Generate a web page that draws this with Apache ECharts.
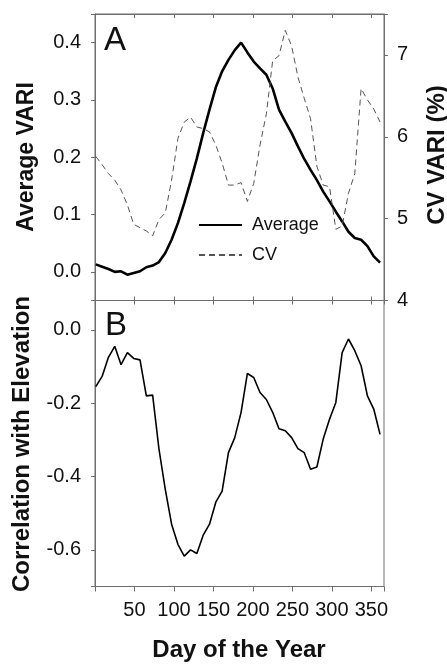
<html>
<head>
    <meta charset="utf-8">
    <script src='https://cdn.jsdelivr.net/npm/echarts@6/dist/echarts.min.js'></script>
</head>
<body>
<div id='main'></div>
<style>
    html, body, #main {
        width: 100%;
        height: 100%;
        margin: 0;
        background: #fff;
    }
</style>
<script>
    // day of year, 8-day steps
    var days = [1, 9, 17, 25, 33, 41, 49, 57, 65, 73, 81, 89, 97, 105, 113, 121, 129, 137, 145, 153, 161, 169, 177, 185,
        193, 201, 209, 217, 225, 233, 241, 249, 257, 265, 273, 281, 289, 297, 305, 313, 321, 329, 337, 345, 353, 361];

    var avgVari = [0.013, 0.009, 0.005, 0.0, 0.001, -0.005, -0.002, 0.001, 0.008, 0.011, 0.017, 0.033, 0.056, 0.085,
        0.12, 0.158, 0.198, 0.242, 0.283, 0.322, 0.35, 0.37, 0.387, 0.4, 0.383, 0.367, 0.355, 0.344, 0.32, 0.283,
        0.262, 0.242, 0.219, 0.197, 0.178, 0.16, 0.14, 0.123, 0.105, 0.088, 0.07, 0.059, 0.056, 0.045, 0.027, 0.016];

    var cvVari = [5.76, 5.66, 5.55, 5.47, 5.35, 5.17, 4.93, 4.89, 4.85, 4.79, 4.99, 5.07, 5.47, 5.98, 6.18, 6.24,
        6.12, 6.10, 6.06, 5.9, 5.68, 5.41, 5.41, 5.44, 5.21, 5.43, 5.9, 6.28, 6.93, 6.99, 7.3, 7.11, 6.73, 6.47,
        6.22, 5.64, 5.41, 5.39, 4.87, 4.91, 5.31, 5.55, 6.59, 6.45, 6.34, 6.18];

    var corrElev = [-0.155, -0.127, -0.075, -0.045, -0.095, -0.062, -0.078, -0.082, -0.18, -0.178, -0.325, -0.435,
        -0.53, -0.585, -0.617, -0.6, -0.61, -0.56, -0.53, -0.47, -0.44, -0.335, -0.294, -0.225, -0.119, -0.13,
        -0.171, -0.19, -0.225, -0.27, -0.275, -0.294, -0.324, -0.335, -0.38, -0.374, -0.298, -0.244, -0.198,
        -0.062, -0.025, -0.057, -0.098, -0.18, -0.216, -0.285];

    function zip(ys) {
        return days.map(function (d, i) { return [d, ys[i]]; });
    }

    var frame = '#6e6e6e';
    var txt = '#111';
    var font = 'Liberation Sans, Arial, sans-serif';

    function xAx(grid, pos, inside, labels) {
        return {
            type: 'value', gridIndex: grid, position: pos, min: 0, max: 366, interval: 50,
            axisLine: {show: true, onZero: false, lineStyle: {color: frame}},
            axisTick: {show: true, inside: inside, length: inside ? 4 : 5, lineStyle: {color: frame}},
            splitLine: {show: false},
            axisLabel: {
                show: labels, margin: 14, color: txt, fontSize: 20, fontFamily: font,
                formatter: function (v) { return (v > 0 && v % 50 === 0) ? String(v) : ''; }
            }
        };
    }

    function fmt(step) {
        return function (v) {
            var k = v / step;
            if (Math.abs(k - Math.round(k)) > 1e-6) return '';
            if (Math.abs(v) < 1e-9) return '0.0';
            return v.toFixed(1);
        };
    }

    var chart = echarts.init(document.getElementById('main'));

    var option = {
        animation: false,
        backgroundColor: '#fff',
        grid: [
            {left: 95, right: 63, top: 14, height: 286.5, show: true, borderColor: frame, borderWidth: 1},
            {left: 95, right: 63, top: 300.5, height: 286, show: true, borderColor: frame, borderWidth: 1}
        ],
        xAxis: [
            xAx(0, 'bottom', true, false),
            xAx(0, 'top', true, false),
            xAx(1, 'top', true, false),
            xAx(1, 'bottom', false, true)
        ],
        yAxis: [
            {
                type: 'value', gridIndex: 0, position: 'left', min: -0.05, max: 0.45, splitNumber: 5,
                axisLine: {show: true, onZero: false, lineStyle: {color: frame}},
                axisTick: {show: true, length: 4, lineStyle: {color: frame}},
                splitLine: {show: false},
                axisLabel: {margin: 14, color: txt, fontSize: 20, fontFamily: font, formatter: fmt(0.1)}
            },
            {
                type: 'value', gridIndex: 0, position: 'right', min: 4, max: 7.5, interval: 1,
                axisLine: {show: true, onZero: false, lineStyle: {color: frame}},
                axisTick: {show: true, length: 4, lineStyle: {color: frame}},
                splitLine: {show: false},
                axisLabel: {
                    margin: 13, color: txt, fontSize: 20, fontFamily: font,
                    formatter: function (v) { return v % 1 === 0 ? String(v) : ''; }
                }
            },
            {
                type: 'value', gridIndex: 1, position: 'left', min: -0.7, max: 0.08, splitNumber: 4,
                axisLine: {show: true, onZero: false, lineStyle: {color: frame}},
                axisTick: {show: true, length: 4, lineStyle: {color: frame}},
                splitLine: {show: false},
                axisLabel: {margin: 14, color: txt, fontSize: 20, fontFamily: font, formatter: fmt(0.2)}
            }
        ],
        legend: {
            data: ['Average', 'CV'],
            orient: 'vertical',
            left: 198, top: 216,
            padding: 0,
            itemWidth: 43, itemHeight: 14, itemGap: 12,
            itemStyle: {opacity: 0},
            textStyle: {fontSize: 18, color: txt, fontFamily: font, padding: [0, 0, 0, 5]}
        },
        series: [
            {
                name: 'Average', type: 'line', xAxisIndex: 0, yAxisIndex: 0, data: zip(avgVari),
                symbol: 'none', lineStyle: {color: '#000', width: 2.6}, itemStyle: {color: '#000'}
            },
            {
                name: 'CV', type: 'line', xAxisIndex: 0, yAxisIndex: 1, data: zip(cvVari),
                symbol: 'none', lineStyle: {color: '#555', width: 1, type: [6, 4]}, itemStyle: {color: '#555'}
            },
            {
                name: 'Correlation', type: 'line', xAxisIndex: 3, yAxisIndex: 2, data: zip(corrElev),
                symbol: 'none', lineStyle: {color: '#000', width: 1.6}
            }
        ],
        graphic: [
            {type: 'text', x: 104, y: 41, style: {text: 'A', font: '33px ' + font, fill: txt, textVerticalAlign: 'middle'}},
            {type: 'text', x: 105, y: 326, style: {text: 'B', font: '33px ' + font, fill: txt, textVerticalAlign: 'middle'}},
            {type: 'text', x: 27, y: 157, rotation: Math.PI / 2,
                style: {text: 'Average VARI', font: 'bold 23px ' + font, fill: txt, textAlign: 'center', textVerticalAlign: 'middle'}},
            {type: 'text', x: 22, y: 444, rotation: Math.PI / 2,
                style: {text: 'Correlation with Elevation', font: 'bold 24px ' + font, fill: txt, textAlign: 'center', textVerticalAlign: 'middle'}},
            {type: 'text', x: 437, y: 155, rotation: Math.PI / 2,
                style: {text: 'CV VARI (%)', font: 'bold 24px ' + font, fill: txt, textAlign: 'center', textVerticalAlign: 'middle'}},
            {type: 'text', x: 239, y: 650,
                style: {text: 'Day of the Year', font: 'bold 24px ' + font, fill: txt, textAlign: 'center', textVerticalAlign: 'middle'}}
        ]
    };

    chart.setOption(option);
</script>
</body>
</html>
